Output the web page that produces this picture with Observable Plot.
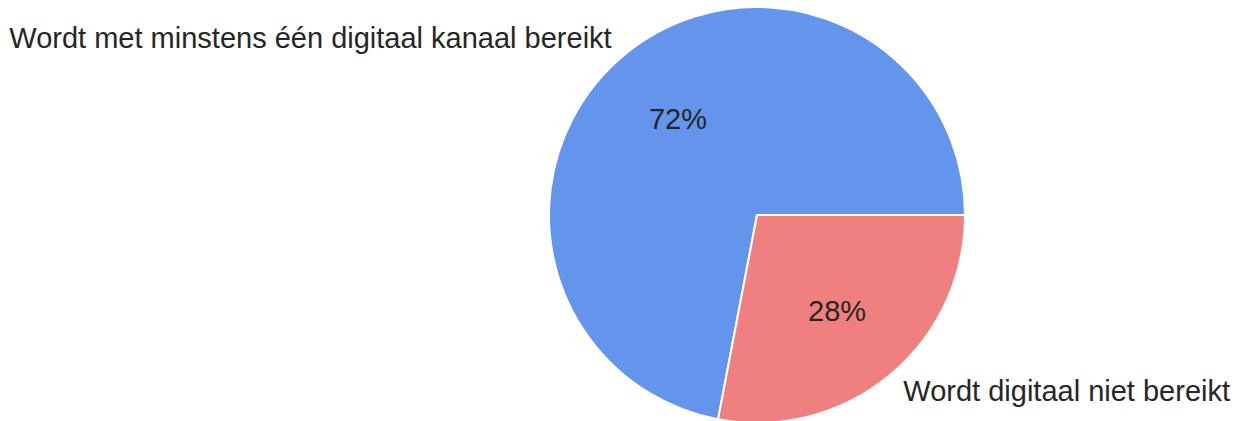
<!DOCTYPE html>
<html>
<head>
<meta charset="utf-8">
<script src="https://cdn.jsdelivr.net/npm/d3@7"></script>
<script src="https://cdn.jsdelivr.net/npm/@observablehq/plot@0.6"></script>
<style>
  html, body { margin: 0; padding: 0; background: #ffffff; }
  svg { display: block; }
</style>
</head>
<body>
<div id="chart"></div>
<script>
const labels = ["Wordt met minstens één digitaal kanaal bereikt", "Wordt digitaal niet bereikt"];
const values = [72, 28];
const colors = ["#6495ED", "#F08080"];

// Matplotlib-style pie: start at 3 o'clock, counterclockwise
const pie = d3.pie().sort(null).value(d => d.value)
  .startAngle(Math.PI / 2).endAngle(Math.PI / 2 - 2 * Math.PI);
const arcs = pie(labels.map((label, i) => ({label, value: values[i]})));

const pctDistance = 0.6, labelDistance = 1.1;
const slices = arcs.map(a => {
  const mid = (a.startAngle + a.endAngle) / 2;
  return {
    label: a.data.label,
    value: a.data.value,
    mid,
    px: pctDistance * Math.sin(mid), py: pctDistance * Math.cos(mid),
    lx: labelDistance * Math.sin(mid), ly: labelDistance * Math.cos(mid)
  };
});

const pieMark = (index, scales) => {
  const cx = scales.x(0), cy = scales.y(0);
  const r = scales.x(1) - scales.x(0);
  const arc = d3.arc().innerRadius(0).outerRadius(r);
  const color = scales.color;
  const g = d3.create("svg:g").attr("transform", `translate(${cx},${cy})`);
  g.selectAll("path").data(arcs).join("path")
    .attr("d", arc)
    .attr("fill", d => color(d.data.label))
    .attr("stroke", "white")
    .attr("stroke-width", 2)
    .attr("stroke-linejoin", "round");
  return g.node();
};

const font = {fontSize: 29, fill: "#262626"};

const chart = Plot.plot({
  width: 1235,
  height: 421,
  style: {fontFamily: "'Liberation Sans', Arial, sans-serif", background: "white", overflow: "visible"},
  x: {domain: [-1, 1], range: [549, 965], axis: null},
  y: {domain: [-1, 1], range: [423, 7], axis: null},
  color: {domain: labels, range: colors},
  marks: [
    Plot.dot(slices, {x: "px", y: "py", fill: "label", r: 0}),
    pieMark,
    Plot.text(slices, {x: "px", y: "py", text: d => `${Math.round(d.value)}%`, ...font}),
    Plot.text(slices.filter(d => d.lx < 0), {x: "lx", y: "ly", text: "label", textAnchor: "end", ...font}),
    Plot.text(slices.filter(d => d.lx >= 0), {x: "lx", y: "ly", text: "label", textAnchor: "start", ...font})
  ]
});
document.getElementById("chart").appendChild(chart);
</script>
</body>
</html>
